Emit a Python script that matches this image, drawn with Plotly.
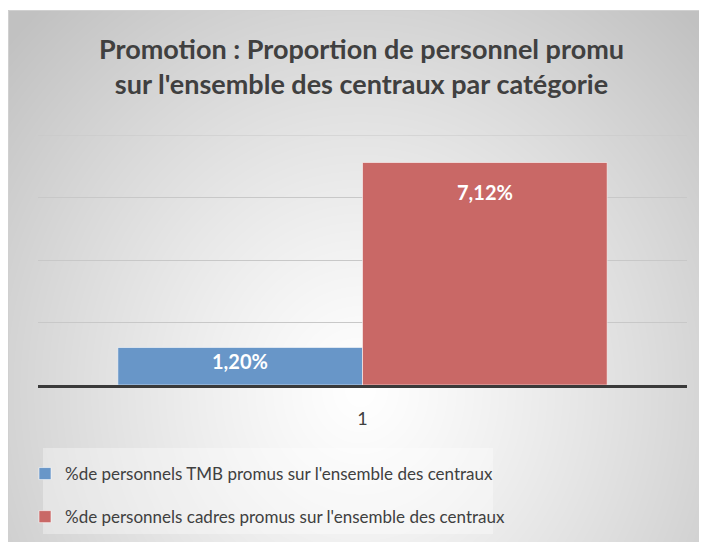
import base64, struct, zlib
import numpy as np
import plotly.graph_objects as go

# ---- data ----
categories = ["1"]
series_names = [
    "%de personnels TMB promus sur l'ensemble des centraux",
    "%de personnels cadres promus sur l'ensemble des centraux",
]
series_values = [1.20, 7.12]          # percent
series_labels = ["1,20%", "7,12%"]
series_colors = ["rgb(104,150,200)", "rgb(201,104,102)"]
y_max = 8
title_text = "<b>Promotion : Proportion de personnel promu<br>sur l'ensemble des centraux par catégorie</b>"

W, H = 707, 542
ML, MT = 30, 127
PW, PH = 649, 250
MR, MB = W - ML - PW, H - MT - PH
FONT = "Lato, Open Sans, sans-serif"
GRID = "#c8c8c8"

def px(xf):   # figure pixel -> paper x
    return (xf - ML) / PW

def py(yf):   # figure pixel -> paper y
    return (MT + PH - yf) / PH

# ---- radial gradient background image ----
def png_uri(arr):
    h, w, _ = arr.shape
    raw = b"".join(b"\x00" + arr[i].tobytes() for i in range(h))
    def chunk(t, d):
        c = struct.pack(">I", len(d)) + t + d
        return c + struct.pack(">I", zlib.crc32(t + d) & 0xFFFFFFFF)
    png = b"\x89PNG\r\n\x1a\n" + chunk(b"IHDR", struct.pack(">IIBBBBB", w, h, 8, 2, 0, 0, 0)) \
        + chunk(b"IDAT", zlib.compress(raw, 9)) + chunk(b"IEND", b"")
    return "data:image/png;base64," + base64.b64encode(png).decode()

bx0, by0 = 0, 2
bw, bh = W - bx0, H - by0
yy, xx = np.mgrid[0:bh, 0:bw].astype(float)
cx, cy = 352 - bx0, 382 - by0
t = np.sqrt(((xx - cx) / 480.0) ** 2 + ((yy - cy) / 520.0) ** 2)
t = np.clip(t, 0, 1)
val = 255 - 62 * t ** 1.2
img = np.repeat(val[:, :, None], 3, axis=2).astype(np.uint8)
bg_uri = png_uri(img)

fig = go.Figure()
bar_w = 0.377
offsets = [-bar_w, 0.0]
for name, v, col, off, grp in zip(series_names, series_values, series_colors, offsets, ["a", "b"]):
    fig.add_trace(go.Bar(
        x=[0], y=[v], name=name, width=[bar_w], offset=[off],
        marker=dict(color=col, line=dict(color="rgba(255,255,255,0.55)", width=1)),
        legendgroup=grp, hoverinfo="skip",
    ))

label_shift = [-13, -29]
for v, lab, off, ys in zip(series_values, series_labels, offsets, label_shift):
    fig.add_annotation(x=off + bar_w / 2, y=v, xref="x", yref="y", text="<b>" + lab + "</b>",
                       showarrow=False, yshift=ys, yanchor="middle",
                       font=dict(family=FONT, size=20, color="white"))

fig.update_layout(
    width=W, height=H,
    margin=dict(l=ML, r=MR, t=MT, b=MB, autoexpand=False),
    paper_bgcolor="white", plot_bgcolor="rgba(0,0,0,0)",
    title=dict(text=title_text, x=0.5, xanchor="center", y=1 - 51 / H, yanchor="top",
               font=dict(family=FONT, size=27, color="#404040")),
    barmode="overlay",
    showlegend=True,
    legend=dict(orientation="v", x=px(17), xanchor="left", y=py(448),
                yanchor="top", bgcolor="rgba(0,0,0,0)", tracegroupgap=18,
                font=dict(family=FONT, size=17, color="#404040"),
                traceorder="grouped", itemwidth=30),
    xaxis=dict(range=[-0.5, 0.5], tickvals=[0], ticktext=categories, showgrid=False,
               showline=True, linecolor="#3a3a3a", linewidth=3, ticks="", zeroline=False,
               ticklabelstandoff=15,
               tickfont=dict(family=FONT, size=18, color="#404040"),
               fixedrange=True),
    yaxis=dict(range=[0, y_max], dtick=2, showticklabels=False, showgrid=True,
               gridcolor=GRID, gridwidth=1, zeroline=False, showline=False, fixedrange=True),
    images=[dict(source=bg_uri, xref="paper", yref="paper",
                 x=px(bx0), y=py(by0), sizex=bw / PW, sizey=bh / PH, sizing="stretch",
                 xanchor="left", yanchor="top", layer="below")],
    shapes=[
        dict(type="rect", xref="paper", yref="paper",
             x0=px(0.5), x1=px(W + 5), y0=py(by0 + 0.5), y1=py(H + 5),
             line=dict(color="#d0d0d0", width=1), layer="below"),
        dict(type="rect", xref="paper", yref="paper",
             x0=px(35), x1=px(485), y0=py(440), y1=py(526),
             fillcolor="rgba(255,255,255,0.35)", line=dict(width=0), layer="below"),
        dict(type="line", xref="paper", yref="y", x0=0, x1=1, y0=y_max, y1=y_max,
             line=dict(color=GRID, width=1), layer="below"),
    ],
)

fig.write_html("out.html")
